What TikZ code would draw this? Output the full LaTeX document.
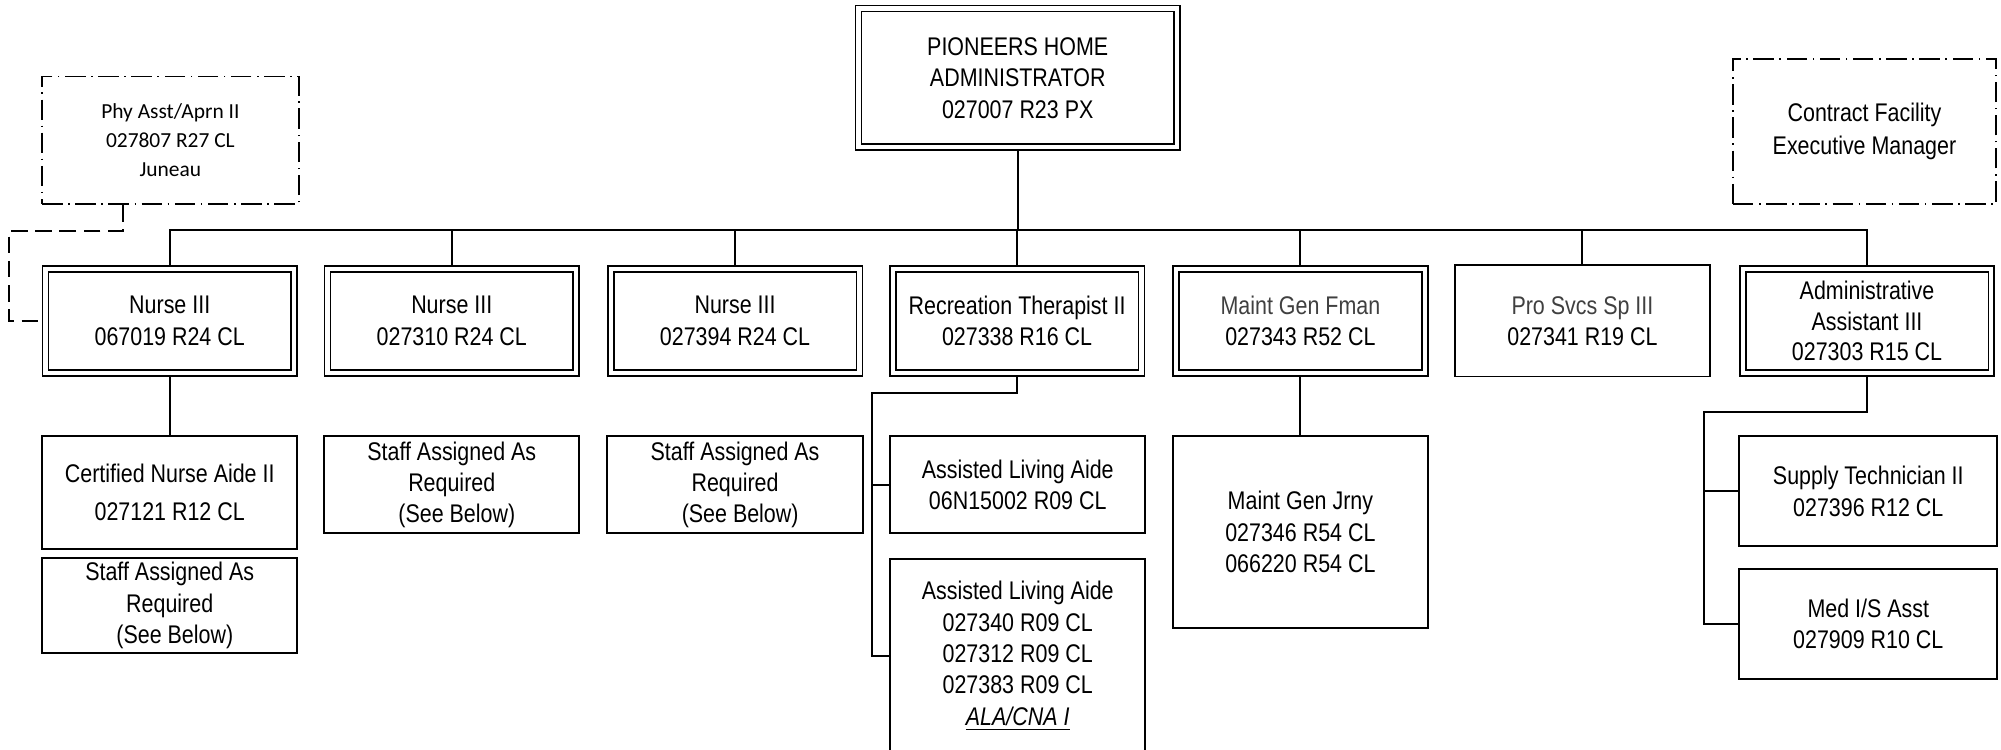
\documentclass[tikz,border=0pt]{standalone}
\usepackage{fontspec}
\setmainfont[FakeStretch=0.84]{Liberation Sans}
\newfontfamily\calfont{Carlito}
\usetikzlibrary{backgrounds}
\definecolor{tgray}{HTML}{404040}
\begin{document}
\begin{tikzpicture}[x=1pt,y=-1pt,
  every node/.style={inner sep=0pt, align=center, font=\fontsize{10}{12.3}\selectfont},
  box/.style={draw, line width=0.75pt, rectangle, fill=white},
  dbox/.style={draw, line width=0.65pt, double, double distance=1.7pt, rectangle, fill=white},
  ddbox/.style={draw, line width=0.7pt, rectangle, dash pattern=on 8pt off 2.2pt on 0.6pt off 2.2pt},
  ltwo/.style={dbox, minimum width=97.4pt, minimum height=40.9pt},
  conn/.style={line width=0.75pt},
  dashc/.style={line width=0.75pt, dash pattern=on 6.5pt off 3pt},
  ]
\useasboundingbox (0,0) rectangle (784,293.5);

% top
\node[dbox, minimum width=124.9pt, minimum height=54.4pt] (top) at (398.75,30.5)
  {PIONEERS HOME\\ADMINISTRATOR\\027007 R23 PX};

% side dashed boxes
\node[ddbox, minimum width=100.5pt, minimum height=50pt, font=\calfont\fontsize{8.4}{11.3}\selectfont] (phy) at (66.75,55)
  {Phy Asst/Aprn II\\027807 R27 CL\\Juneau};
\node[ddbox, minimum width=103pt, minimum height=57pt, font=\fontsize{10}{13}\selectfont] (cfm) at (730.5,51.5)
  {Contract Facility\\Executive Manager};

% level 2
\node[ltwo] (n1) at (66.5,125.75) {Nurse III\\067019 R24 CL};
\node[ltwo] (n2) at (177,125.75) {Nurse III\\027310 R24 CL};
\node[ltwo] (n3) at (288,125.75) {Nurse III\\027394 R24 CL};
\node[ltwo] (n4) at (398.5,125.75) {Recreation Therapist II\\027338 R16 CL};
\node[ltwo] (n5) at (509.5,125.75) {\textcolor{tgray}{Maint Gen Fman}\\027343 R52 CL};
\node[box, minimum width=100pt, minimum height=43.5pt] (n6) at (620,125.75) {\textcolor{tgray}{Pro Svcs Sp III}\\027341 R19 CL};
\node[ltwo, font=\fontsize{10}{11.8}\selectfont] (n7) at (731.5,125.75) {Administrative\\Assistant III\\027303 R15 CL};

% level 3
\node[box, minimum width=100pt, minimum height=44pt] (cna) at (66.5,193)
  {Certified Nurse Aide II\\[2.8pt]027121 R12 CL};
\node[box, minimum width=100pt, minimum height=37.5pt] (s1) at (66.5,237.25)
  {Staff Assigned As\\Required\\\hspace*{0.4em}(See Below)};
\node[box, minimum width=100pt, minimum height=38pt] (s2) at (177,190)
  {Staff Assigned As\\Required\\\hspace*{0.4em}(See Below)};
\node[box, minimum width=100pt, minimum height=38pt] (s3) at (288,190)
  {Staff Assigned As\\Required\\\hspace*{0.4em}(See Below)};
\node[box, minimum width=100pt, minimum height=38pt] (ala1) at (398.75,190)
  {Assisted Living Aide\\06N15002 R09 CL};
\node[box, minimum width=100pt, minimum height=76pt] (ala2) at (398.75,257)
  {Assisted Living Aide\\027340 R09 CL\\027312 R09 CL\\027383 R09 CL\\\textit{\underline{ALA/CNA I}}};
\node[box, minimum width=100pt, minimum height=75pt] (mgj) at (509.5,208.5)
  {Maint Gen Jrny\\027346 R54 CL\\066220 R54 CL};
\node[box, minimum width=101pt, minimum height=43pt] (sup) at (732,192.5)
  {Supply Technician II\\027396 R12 CL};
\node[box, minimum width=101pt, minimum height=43pt] (med) at (732,244.5)
  {Med I/S Asst\\027909 R10 CL};

\begin{pgfonlayer}{background}
% bus
\draw[conn] (top.south) -- (top.south |- 0,90);
\draw[conn] (n1.north) -- (n1.north |- 0,90) -- (n7.north |- 0,90) -- (n7.north);
\foreach \n in {n2,n3,n4,n5,n6} \draw[conn] (\n.north) -- (\n.north |- 0,90);
% nurse 1
\draw[conn] (n1.south) -- (cna.north);
% rec therapist
\draw[conn] (n4.south) -- (n4.south |- 0,154) -| (341.75,154) |- (ala2.west);
\draw[conn] (341.75,190) -- (ala1.west);
% maint
\draw[conn] (n5.south) -- (mgj.north);
% admin
\draw[conn] (n7.south) -- (n7.south |- 0,161.5) -| (667.5,161.5) |- (med.west);
\draw[conn] (667.5,192.5) -- (sup.west);
% phy dashed
\draw[dashc] ([xshift=32pt]phy.south west) |- (3.5,90.5) |- (n1.west);
\end{pgfonlayer}
\end{tikzpicture}
\end{document}
